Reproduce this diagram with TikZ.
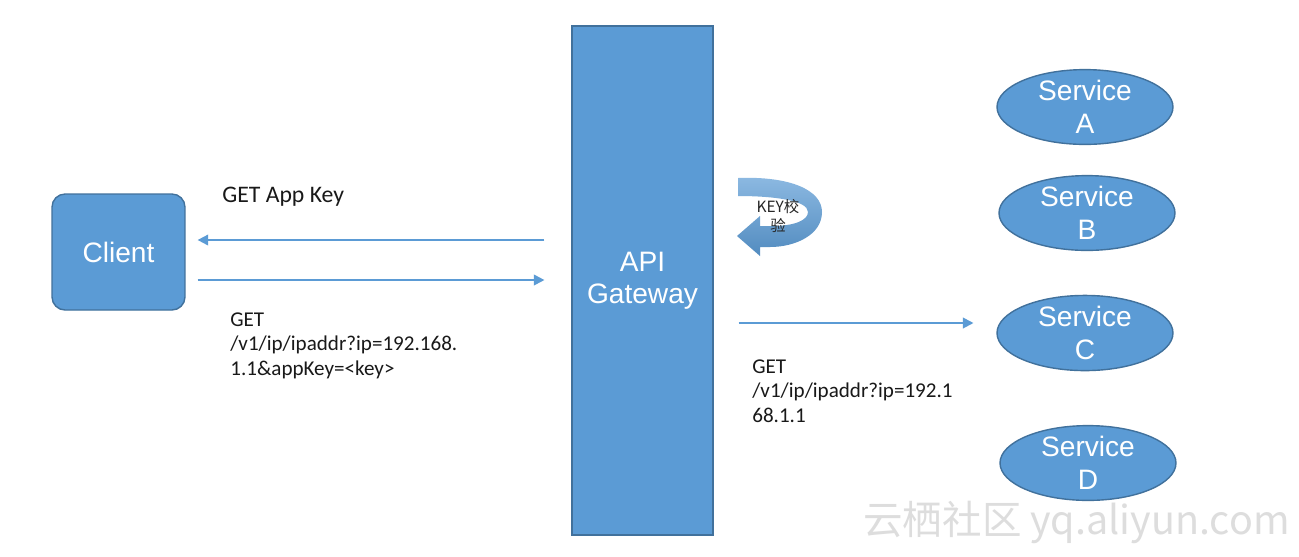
\documentclass[tikz,border=0pt]{standalone}
\usepackage{fontspec}
\setmainfont{Carlito}
\newfontfamily\lsans{Liberation Sans}
\newfontfamily\cjk{Noto Sans CJK SC}
\usetikzlibrary{arrows.meta,shapes.geometric,calc}
\definecolor{boxblue}{HTML}{5B9BD5}
\definecolor{boxedge}{HTML}{41719C}
\definecolor{arrowblue}{HTML}{5B9BD5}
\definecolor{wmgray}{HTML}{DDDDDD}
\begin{document}
\begin{tikzpicture}[x=0.02cm,y=-0.02cm,
  bluebox/.style={draw=boxedge,line width=0.8pt,fill=boxblue,text=white,
    font=\lsans\fontsize{16}{18.5}\selectfont,align=center,inner sep=0pt},
  svc/.style={bluebox,ellipse,minimum width=3.52cm,minimum height=1.32cm},
  conn/.style={draw=arrowblue,line width=1.1pt,-{Triangle[length=6pt,width=6pt]}},
  lbl/.style={font=\fontsize{12}{14.2}\selectfont,align=left,inner sep=0pt,anchor=north west,text=black!90}
]
\useasboundingbox (0,0) rectangle (1299,556);
\fill[white] (0,0) rectangle (1299,556);

% main nodes
\node[bluebox,rounded corners=0.26cm,minimum width=2.66cm,minimum height=2.32cm] (client) at (118.5,252) {Client};
\node[bluebox,minimum width=2.82cm,minimum height=10.18cm] (gw) at (642.5,280.5) {API\\Gateway};
\node[svc] (sa) at (1085,107) {Service\\A};
\node[svc] (sb) at (1087,213) {Service\\B};
\node[svc] (sc) at (1085,333) {Service\\C};
\node[svc] (sd) at (1088,463) {Service\\D};

% helper y-levels
\coordinate (y240) at (0,240);
\coordinate (y280) at (0,280);
\coordinate (y323) at (0,323);

% connectors
\draw[conn,shorten <=15.3pt,shorten >=6.8pt] (gw.west |- y240) -- (client.east |- y240);
\draw[conn,shorten <=6.8pt,shorten >=15.3pt] (client.east |- y280) -- (gw.west |- y280);
\draw[conn,shorten <=14.2pt,shorten >=13pt] (gw.east |- y323) -- (sc.west |- y323);

% labels
\node[lbl,font=\fontsize{13.5}{15}\selectfont] (lgak) at (222,187) {GET App Key};
\node[lbl] (lreq1) at (230,312) {GET\\/v1/ip/ipaddr?ip=192.168.\\1.1\&appKey=<key>};
\node[lbl] (lreq2) at (752,359) {GET\\/v1/ip/ipaddr?ip=192.1\\68.1.1};

% curved U-turn arrow (KEY check)
\shade[top color=boxblue!70!white,bottom color=boxblue!90!black]
  (738,178) .. controls (790,176) and (822,190) .. (822,212)
  .. controls (822,235) and (795,247) .. (770,247)
  -- (760,247) -- (760,256) -- (737,236) -- (760,216) -- (760,226) -- (772,226)
  .. controls (795,226) and (808,220) .. (808,212)
  .. controls (808,200) and (772,196) .. (738,196) -- cycle;
\node[font=\cjk\fontsize{8.8}{11}\selectfont,align=center,inner sep=0pt,text=black!85] (keychk) at (778,216) {KEY校\\验};

% watermark
\node[font=\cjk\fontsize{22.5}{25}\selectfont,text=wmgray,anchor=east,inner sep=0pt] (wm) at (1290,522) {云栖社区 yq.aliyun.com};
\end{tikzpicture}
\end{document}
